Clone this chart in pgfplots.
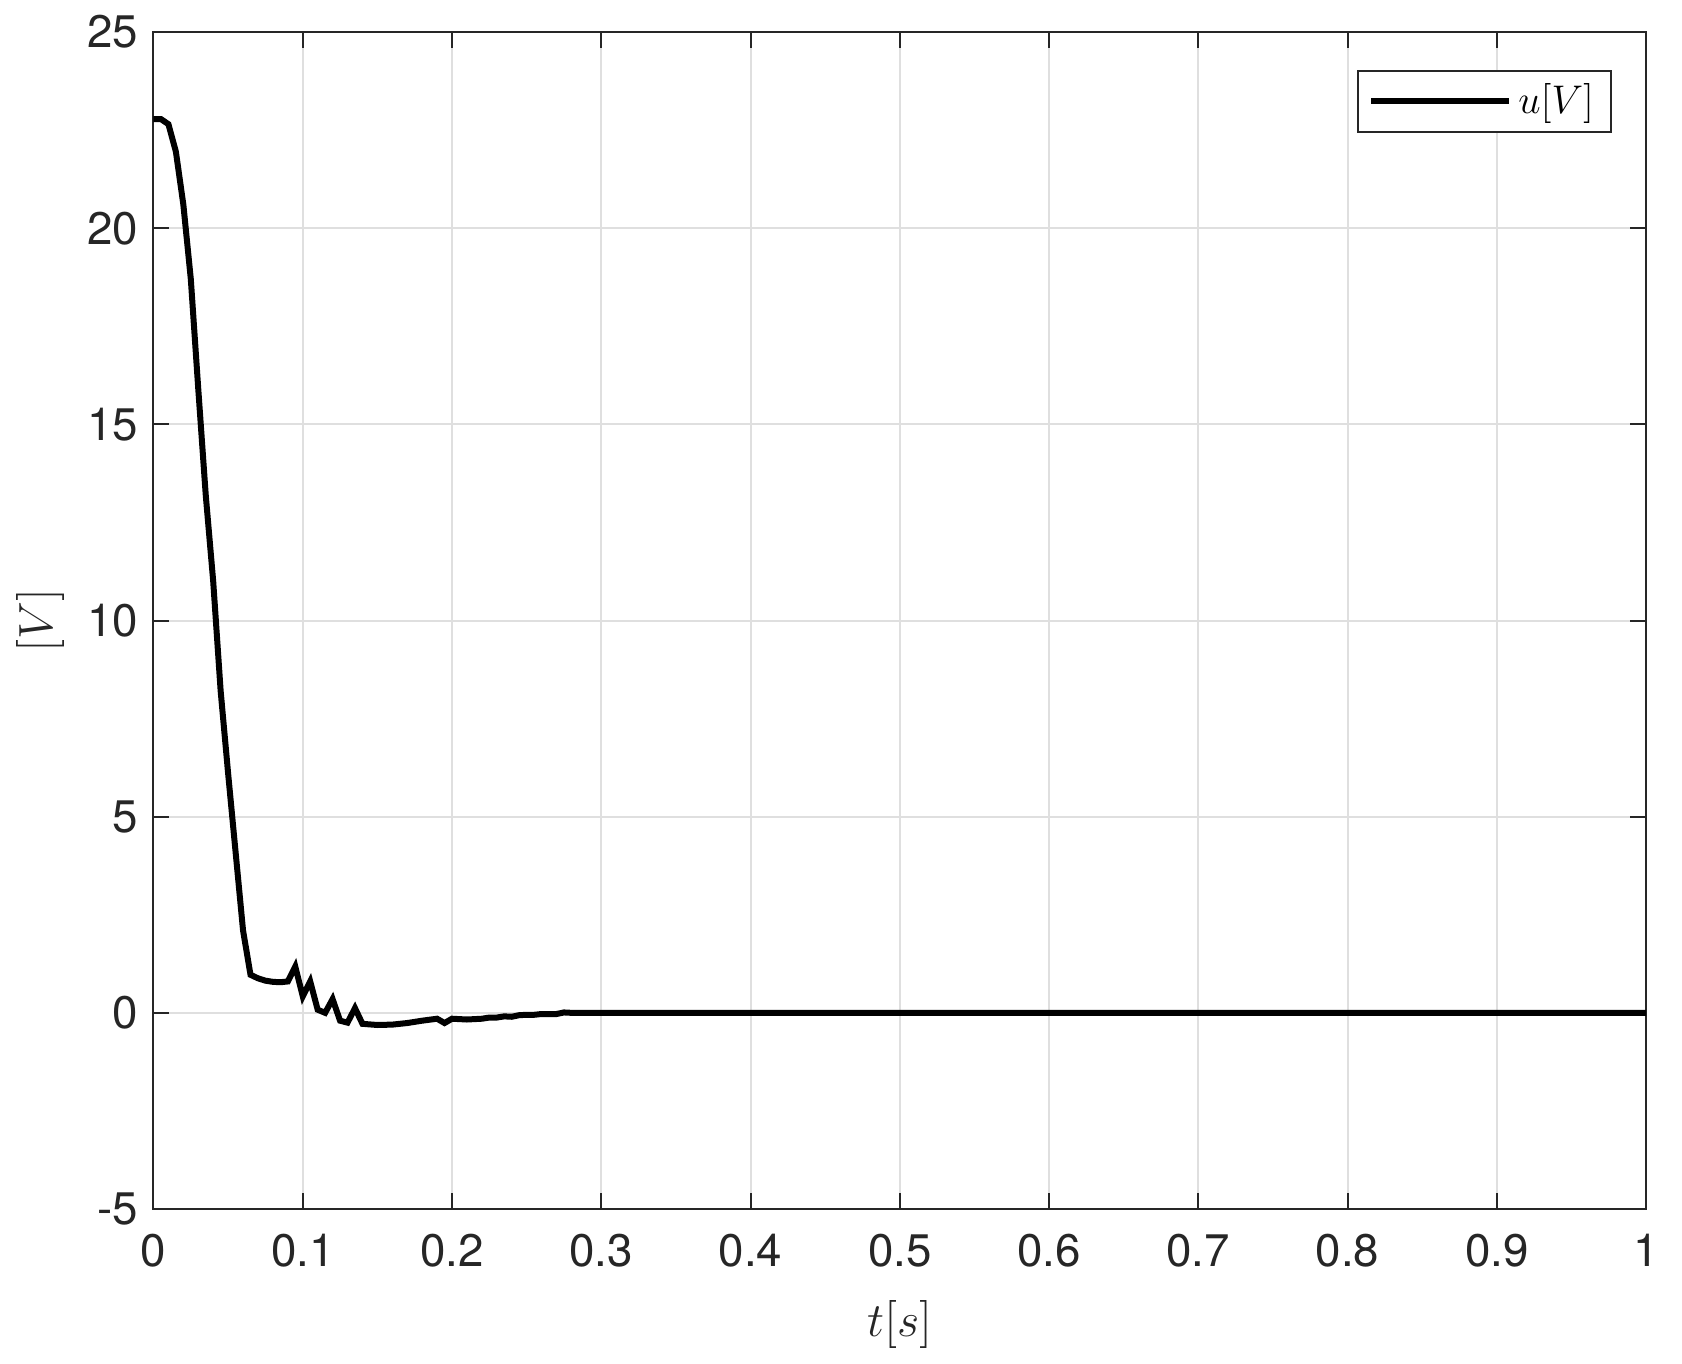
\documentclass[border=0pt]{standalone}
\usepackage{pgfplots}
\pgfplotsset{compat=1.18}
\usepackage{fontspec}
\setmainfont{TeX Gyre Heros}
\definecolor{axgray}{RGB}{38,38,38}
\definecolor{gridgray}{RGB}{223,223,223}

\begin{document}
\begin{tikzpicture}
% page box: 1682 x 1363 px at 0.3pt per px
\useasboundingbox (-46.05pt,-46.2pt) rectangle (458.55pt,362.7pt);
\begin{axis}[
    at={(0,0)}, anchor=south west,
    scale only axis,
    width=447.75pt, height=353.1pt,
    xmin=0, xmax=1, ymin=-5, ymax=25,
    xtick={0,0.1,...,1},
    xticklabels={0,0.1,0.2,0.3,0.4,0.5,0.6,0.7,0.8,0.9,1},
    ytick={-5,0,5,10,15,20,25},
    yticklabels={-5,0,5,10,15,20,25},
    tick align=inside,
    major tick length=4.8pt,
    tick style={axgray, line width=0.6pt},
    axis line style={axgray, line width=0.6pt},
    grid=major,
    major grid style={gridgray, line width=0.6pt},
    ticklabel style={font=\fontsize{13.7}{16}\selectfont, text=axgray},
    xticklabel style={yshift=-4pt},
    yticklabel style={xshift=-1pt},
    xlabel={$t[s]$},
    ylabel={$[V]$},
    xlabel style={yshift=-3pt},
    label style={font=\fontsize{13.5}{16}\selectfont, text=axgray},
    legend style={at={(0.977,0.968)}, anchor=north east, draw=axgray,
        line width=0.6pt, font=\fontsize{13}{15}\selectfont,
        inner xsep=3pt, inner ysep=2pt},
    legend cell align=left,
    legend image code/.code={\draw[#1] (0cm,0cm) -- (1.45cm,0cm);},
]
\addplot[black, line width=1.8pt] coordinates {
    (0.000,22.78) (0.005,22.78) (0.010,22.65) (0.015,21.95) (0.020,20.6)
    (0.025,18.7) (0.030,15.9) (0.035,13.2) (0.040,11.0) (0.045,8.2)
    (0.050,6.1) (0.055,4.1) (0.060,2.1) (0.065,0.97) (0.070,0.88)
    (0.075,0.82) (0.080,0.79) (0.085,0.78) (0.090,0.80) (0.095,1.18)
    (0.100,0.42) (0.105,0.80) (0.110,0.08) (0.115,0.00) (0.120,0.35)
    (0.125,-0.20) (0.130,-0.25) (0.135,0.12) (0.140,-0.28) (0.150,-0.31)
    (0.160,-0.30) (0.170,-0.26) (0.180,-0.20) (0.190,-0.15) (0.195,-0.26)
    (0.200,-0.15) (0.210,-0.17) (0.220,-0.15) (0.225,-0.12) (0.230,-0.12)
    (0.235,-0.09) (0.240,-0.10) (0.245,-0.06) (0.250,-0.05) (0.255,-0.05)
    (0.260,-0.03) (0.265,-0.03) (0.270,-0.03) (0.275,0.01) (0.280,0.00)
    (1.000,0.00)
};
\addlegendentry{$u[V]$}
\end{axis}
\end{tikzpicture}
\end{document}
